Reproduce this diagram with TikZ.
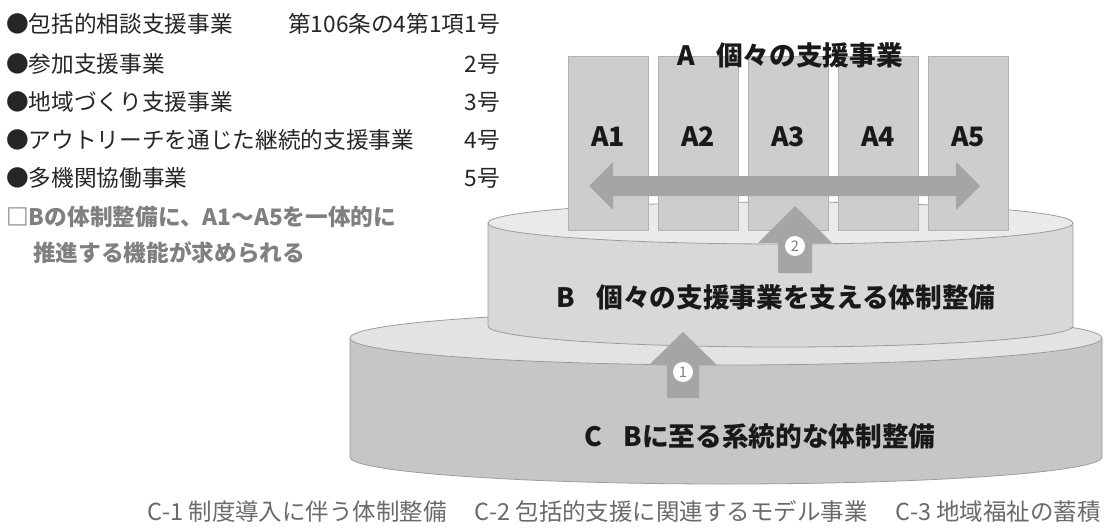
\documentclass[tikz,border=0pt]{standalone}
\usepackage{fontspec}
\setmainfont{Noto Sans CJK JP}
\definecolor{cside}{HTML}{C6C6C6}
\definecolor{ctop}{HTML}{E3E3E3}
\definecolor{bside}{HTML}{D8D8D8}
\definecolor{btop}{HTML}{EAEAEA}
\definecolor{edge}{HTML}{9C9C9C}
\definecolor{boxfill}{HTML}{CDCDCD}
\definecolor{boxedge}{HTML}{B2B2B2}
\definecolor{arr}{HTML}{A5A5A5}
\definecolor{txt}{HTML}{262626}
\definecolor{notegray}{HTML}{808080}
\definecolor{bottomgray}{HTML}{6A6A6A}
\tikzset{
  lst/.style={anchor=west, inner sep=0pt, text=txt, font=\fontsize{17}{20}\selectfont},
  num/.style={anchor=east, inner sep=0pt, text=txt, font=\fontsize{17}{20}\selectfont},
  notetext/.style={anchor=west, inner sep=0pt, text=notegray, font=\fontsize{17}{20}\selectfont\bfseries},
  abox/.style={draw=boxedge, line width=0.6pt, fill=boxfill, minimum width=60pt, minimum height=130.5pt, inner sep=0pt},
  lbl/.style={inner sep=0pt, text=black!90, font=\fontsize{20}{24}\selectfont\bfseries},
  outline/.style={draw=edge, line width=0.6pt},
  bigarrow/.style={fill=arr},
  numcirc/.style={circle, fill=white, minimum size=15pt, inner sep=0pt, text=black!50, font=\fontsize{11}{12}\selectfont},
  bottomtext/.style={inner sep=0pt, text=bottomgray, font=\fontsize{17.6}{20}\selectfont}
}
\begin{document}
\begin{tikzpicture}[x=0.75pt,y=-0.75pt]
\useasboundingbox[fill=white] (0,0) rectangle (1105,528);

% left list
\node[lst] (l1) at (6,24) {●包括的相談支援事業};
\node[num] (n1) at (500,24) {第106条の4第1項1号};
\node[lst] (l2) at (6,64) {●参加支援事業};
\node[num] (n2) at (500,64) {2号};
\node[lst] (l3) at (6,102) {●地域づくり支援事業};
\node[num] (n3) at (500,102) {3号};
\node[lst] (l4) at (6,140) {●アウトリーチを通じた継続的支援事業};
\node[num] (n4) at (500,140) {4号};
\node[lst] (l5) at (6,178) {●多機関協働事業};
\node[num] (n5) at (500,178) {5号};
\node[notetext] (t1) at (6,217) {□Bの体制整備に、A1～A5を一体的に};
\node[notetext] (t2) at (33,253) {推進する機能が求められる};

% cylinder C
\fill[cside] (350,338) -- (350,457) arc[start angle=180, end angle=360, x radius=282pt, y radius=20.25pt] -- (1102,338) -- cycle;
\draw[outline] (350,338) -- (350,457) arc[start angle=180, end angle=360, x radius=282pt, y radius=20.25pt] -- (1102,338);
\filldraw[fill=ctop, outline] (726,338) ellipse [x radius=282pt, y radius=20.25pt];

% cylinder B
\fill[bside] (488,223) -- (488,326) arc[start angle=180, end angle=360, x radius=219.375pt, y radius=15.75pt] -- (1073,223) -- cycle;
\draw[outline] (488,223) -- (488,326) arc[start angle=180, end angle=360, x radius=219.375pt, y radius=15.75pt] -- (1073,223);
\filldraw[fill=btop, outline] (780.5,223) ellipse [x radius=219.375pt, y radius=15.75pt];

% A boxes
\node[abox] (a1) at (608,143) {};
\node[abox] (a2) at (698,143) {};
\node[abox] (a3) at (788,143) {};
\node[abox] (a4) at (878,143) {};
\node[abox] (a5) at (968,143) {};
\node[lbl] (a1t) at (608,137) {A1};
\node[lbl] (a2t) at (698,137) {A2};
\node[lbl] (a3t) at (788,137) {A3};
\node[lbl] (a4t) at (878,137) {A4};
\node[lbl] (a5t) at (968,137) {A5};

% double arrow
\fill[bigarrow] (589,186) -- (613,162) -- (613,176) -- (956,176) -- (956,162) -- (980,186) -- (956,210) -- (956,196) -- (613,196) -- (613,210) -- cycle;

% up arrow 2
\fill[bigarrow] (795,206) -- (832,243) -- (812,243) -- (812,273) -- (778,273) -- (778,243) -- (758,243) -- cycle;
% up arrow 1
\fill[bigarrow] (683,332) -- (717,365) -- (699,365) -- (699,398) -- (667,398) -- (667,365) -- (649,365) -- cycle;

\node[numcirc] (c2) at (795,246) {2};
\node[numcirc] (c1) at (683,372) {1};

% titles
\node[lbl] (at) at (790,55) {A\hspace{0.8em}個々の支援事業};
\node[lbl] (bt) at (776,297) {B\hspace{0.8em}個々の支援事業を支える体制整備};
\node[lbl] (ct) at (760,436) {C\hspace{0.8em}Bに至る系統的な体制整備};

% bottom text
\node[bottomtext, anchor=east] (bot) at (1101,511) {C-1 制度導入に伴う体制整備\hspace{1.2em}C-2 包括的支援に関連するモデル事業\hspace{1.2em}C-3 地域福祉の蓄積};
\end{tikzpicture}
\end{document}
